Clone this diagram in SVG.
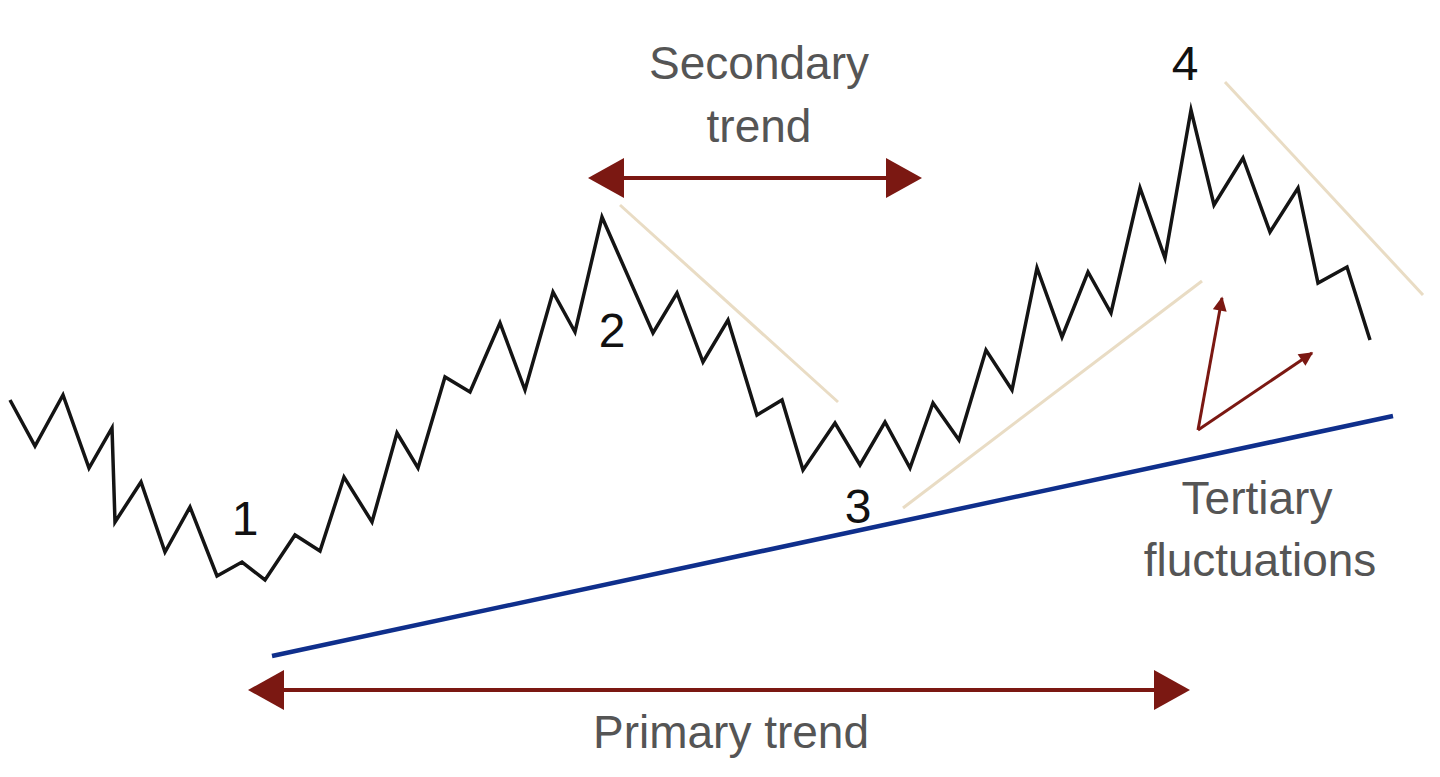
<svg xmlns="http://www.w3.org/2000/svg" width="1440" height="777" viewBox="0 0 1440 777">
  <defs>
    <style>
      .lbl { font-family: "Liberation Sans", Arial, sans-serif; font-size: 46px; fill: #555555; text-anchor: middle; }
      .num { font-family: "Liberation Sans", Arial, sans-serif; font-size: 48px; fill: #111111; text-anchor: middle; }
      .price { fill: none; stroke: #141414; stroke-width: 3.5; stroke-linejoin: miter; stroke-miterlimit: 10; }
      .tan { stroke: #e9dcc4; stroke-width: 3; fill: none; }
      .red { stroke: #7b1812; stroke-width: 4; fill: none; }
      .redthin { stroke: #7b1812; stroke-width: 3; fill: none; }
      .head { fill: #7b1812; }
      .primary { stroke: #0f2f8c; stroke-width: 4.5; fill: none; }
    </style>
    <marker id="ah" viewBox="0 0 10 10" refX="9" refY="5" markerWidth="16" markerHeight="14" markerUnits="userSpaceOnUse" orient="auto">
      <path d="M0,0 L10,5 L0,10 Z" class="head"/>
    </marker>
  </defs>
  <rect width="1440" height="777" fill="#ffffff"/>

  <g id="price-line">
    <polyline class="price" points="10,400 35,446 63,395 89,468 112,428 115,522 141,482 165,552 190,507 217,576 242,562 265,580 295,535 320,551 344,477 372,522 397,433 418,468 445,377 470,392 500,323 525,390 553,292 575,332 602,217 653,333 677,293 703,362 728,320 757,415 782,400 803,470 835,423 860,465 885,422 910,468 933,403 959,440 986,350 1012,390 1037,268 1062,337 1088,272 1111,313 1140,188 1165,258 1191,110 1214,205 1243,158 1270,232 1298,188 1318,283 1347,267 1370,340"/>
  </g>

  <g id="connectors">
    <line class="tan" x1="620" y1="205" x2="838" y2="402"/>
    <line class="tan" x1="903" y1="508" x2="1202" y2="281"/>
    <line class="tan" x1="1225" y1="82" x2="1423" y2="295"/>
    <line class="primary" x1="272" y1="656" x2="1393" y2="416"/>
    <g id="secondary-arrow">
      <line class="red" x1="620" y1="178" x2="890" y2="178"/>
      <polygon class="head" points="588,178 624,158 624,198"/>
      <polygon class="head" points="922,178 886,158 886,198"/>
    </g>
    <g id="primary-arrow">
      <line class="red" x1="280" y1="690" x2="1160" y2="690"/>
      <polygon class="head" points="248,690 284,670 284,710"/>
      <polygon class="head" points="1190,690 1154,670 1154,710"/>
    </g>
    <g id="tertiary-arrows">
      <line class="redthin" x1="1198" y1="430" x2="1222" y2="298" marker-end="url(#ah)"/>
      <line class="redthin" x1="1198" y1="430" x2="1312" y2="353" marker-end="url(#ah)"/>
    </g>
  </g>

  <g id="point-1"><text class="num" x="245" y="535">1</text></g>
  <g id="point-2"><text class="num" x="612" y="347">2</text></g>
  <g id="point-3"><text class="num" x="858" y="523">3</text></g>
  <g id="point-4"><text class="num" x="1185" y="80">4</text></g>

  <g id="label-secondary">
    <text class="lbl" x="759" y="79">Secondary</text>
    <text class="lbl" x="759" y="142">trend</text>
  </g>
  <g id="label-tertiary">
    <text class="lbl" x="1257" y="514">Tertiary</text>
    <text class="lbl" x="1260" y="576">fluctuations</text>
  </g>
  <g id="label-primary">
    <text class="lbl" x="731" y="748">Primary trend</text>
  </g>
</svg>
